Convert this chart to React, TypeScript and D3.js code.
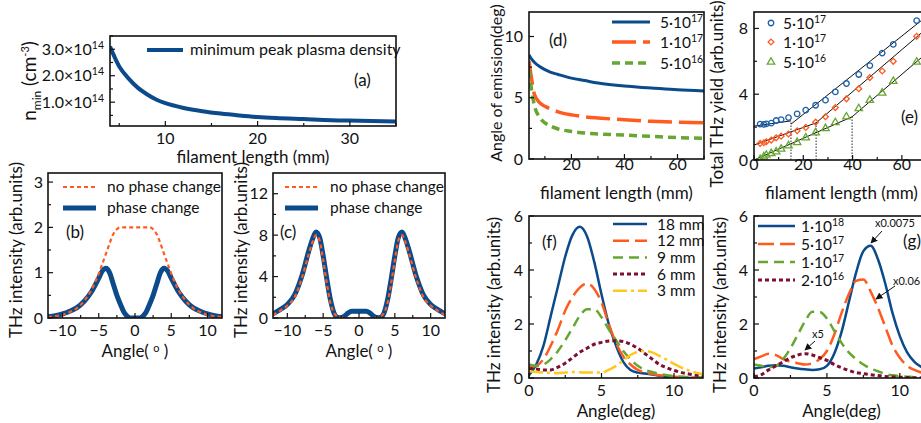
import React from 'react';
import * as d3 from 'd3';

const FONT = "Lato, 'Open Sans', sans-serif";
const BLUE = '#0b4a8b';
const ORANGE = '#ff5a1f';
const GREEN = '#66a631';
const DARKRED = '#7d1030';
const YELLOW = '#ffc81e';

// (a) minimum peak plasma density vs filament length (units of 1e14 cm^-3)
const aLength = [4, 5, 6, 7, 8, 9, 10, 12, 14, 16, 18, 20, 22, 25, 28, 31, 35];
const aDensity = [3.1, 2.35, 1.9, 1.55, 1.3, 1.1, 0.96, 0.78, 0.66, 0.57, 0.5, 0.44, 0.4, 0.36, 0.32, 0.3, 0.27];

// (b) angular THz distribution, short filament
const bAngle = [-12, -11, -10, -9, -8, -7, -6, -5, -4.5, -4, -3.5, -3, -2.5, -2, -1.5, -1, -0.5, 0, 0.5, 1, 1.5, 2, 2.5, 3, 3.5, 4, 4.5, 5, 6, 7, 8, 9, 10, 11, 12];
const bNoPhase = [0.02, 0.04, 0.07, 0.13, 0.22, 0.38, 0.62, 0.98, 1.2, 1.42, 1.65, 1.85, 1.96, 2.0, 2.0, 2.0, 2.0, 2.0, 2.0, 2.0, 2.0, 2.0, 1.96, 1.85, 1.65, 1.42, 1.2, 0.98, 0.62, 0.38, 0.22, 0.13, 0.07, 0.04, 0.02];
const bPhase = [0.03, 0.05, 0.09, 0.15, 0.23, 0.37, 0.58, 0.88, 1.04, 1.1, 1.0, 0.75, 0.5, 0.3, 0.12, 0.03, 0.0, 0.0, 0.0, 0.03, 0.12, 0.3, 0.5, 0.75, 1.0, 1.1, 1.04, 0.88, 0.58, 0.37, 0.23, 0.15, 0.09, 0.05, 0.03];

// (c) angular THz distribution, long filament
const cAngle = [-12, -11, -10, -9, -8, -7, -6.5, -6, -5.5, -5, -4.5, -4, -3.5, -3, -2.5, -2, -1.5, -1, 0, 1, 1.5, 2, 2.5, 3, 3.5, 4, 4.5, 5, 5.5, 6, 6.5, 7, 8, 9, 10, 11, 12];
const cNoPhase = [0.3, 0.7, 1.2, 2.0, 3.8, 6.2, 7.3, 8.0, 7.5, 5.6, 3.4, 1.5, 0.5, 0.15, 0.05, 0.0, 0.0, 0.0, 0.0, 0.0, 0.0, 0.0, 0.05, 0.15, 0.5, 1.5, 3.4, 5.6, 7.5, 8.0, 7.3, 6.2, 3.8, 2.0, 1.2, 0.7, 0.3];
const cPhase = [0.4, 0.8, 1.3, 2.2, 4.0, 6.5, 7.6, 8.3, 7.8, 6.0, 3.8, 1.8, 0.5, 0.05, 0.0, 0.2, 0.5, 0.65, 0.65, 0.65, 0.5, 0.2, 0.0, 0.05, 0.5, 1.8, 3.8, 6.0, 7.8, 8.3, 7.6, 6.5, 4.0, 2.2, 1.3, 0.8, 0.4];

// (d) angle of emission vs filament length
const dLength = [4, 5, 6, 8, 10, 12, 15, 20, 25, 30, 40, 50, 60, 70];
const dHigh = [8.5, 8.15, 7.9, 7.55, 7.3, 7.1, 6.9, 6.6, 6.4, 6.2, 5.95, 5.8, 5.65, 5.55];
const dMid = [8.0, 6.5, 5.3, 4.6, 4.3, 4.1, 3.85, 3.6, 3.45, 3.35, 3.2, 3.08, 3.0, 2.95];
const dLow = [7.3, 5.6, 4.4, 3.4, 2.95, 2.7, 2.45, 2.25, 2.12, 2.05, 1.95, 1.85, 1.75, 1.7];
const densityLabels = [['5·10', '17'], ['1·10', '17'], ['5·10', '16']];

// (e) total THz yield vs filament length
const eLength = [2.5, 4, 5, 7, 9, 11, 14, 17.5, 21, 25, 29, 33, 37.5, 42.5, 47, 52, 56.5, 66];
const eHigh = [2.18, 2.17, 2.2, 2.24, 2.4, 2.46, 2.58, 2.8, 3.03, 3.33, 3.64, 4.14, 4.65, 5.2, 5.74, 6.5, 7.03, 8.48];
const eMid = [1.01, 1.05, 1.11, 1.21, 1.35, 1.45, 1.58, 1.78, 1.98, 2.3, 2.63, 3.19, 3.72, 4.34, 5.01, 5.41, 6.0, 7.52];
const eLow = [0.04, 0.2, 0.3, 0.4, 0.5, 0.67, 0.87, 1.07, 1.35, 1.66, 1.92, 2.28, 2.63, 3.13, 3.64, 4.08, 4.79, 5.96];
const eFitHigh = [[[0, 2.06], [15, 2.38]], [[15, 2.18], [71, 8.85]]];
const eFitMid = [[[0, 0.91], [25.2, 2.26]], [[25.2, 2.26], [71, 8.12]]];
const eFitLow = [[[0, 0.0], [39.8, 2.63]], [[39.8, 2.63], [71, 6.62]]];
const eBreaks = [[15, 2.38], [25.2, 2.26], [39.8, 2.63]];

// (f) angular distribution for several filament lengths
const fAngle = [0, 0.5, 1, 1.5, 2, 2.5, 3, 3.5, 4, 4.5, 5, 5.5, 6, 6.5, 7, 7.5, 8, 8.5, 9, 9.5, 10, 11, 12];
const f18 = [0.1, 0.5, 1.2, 2.3, 3.4, 4.5, 5.3, 5.6, 5.25, 4.3, 3.1, 2.0, 1.2, 0.6, 0.3, 0.2, 0.17, 0.13, 0.08, 0.05, 0.02, 0.0, 0.0];
const f12 = [0.4, 0.45, 0.7, 1.2, 1.8, 2.5, 3.0, 3.35, 3.5, 3.3, 2.8, 2.0, 1.3, 0.8, 0.5, 0.3, 0.2, 0.15, 0.1, 0.07, 0.05, 0.02, 0.0];
const f9 = [0.5, 0.45, 0.5, 0.7, 1.0, 1.4, 1.85, 2.3, 2.55, 2.55, 2.25, 1.8, 1.4, 1.0, 0.7, 0.45, 0.3, 0.22, 0.15, 0.1, 0.07, 0.03, 0.01];
const f6 = [0.35, 0.33, 0.3, 0.3, 0.4, 0.55, 0.75, 0.95, 1.1, 1.25, 1.32, 1.37, 1.38, 1.35, 1.25, 1.1, 0.9, 0.7, 0.5, 0.38, 0.28, 0.15, 0.08];
const f3 = [0.25, 0.22, 0.2, 0.19, 0.18, 0.2, 0.22, 0.21, 0.2, 0.2, 0.2, 0.3, 0.45, 0.65, 0.85, 0.97, 1.0, 0.95, 0.82, 0.68, 0.52, 0.28, 0.14];
const fLabels = ['18 mm', '12 mm', '9 mm', '6 mm', '3 mm'];

// (g) angular distribution for several densities
const gAngle = [0, 0.5, 1, 1.5, 2, 2.5, 3, 3.5, 4, 4.5, 5, 5.5, 6, 6.5, 7, 7.5, 8, 8.5, 9, 9.5, 10, 10.5, 11, 11.5, 12];
const g1e18 = [0.35, 0.4, 0.45, 0.47, 0.45, 0.4, 0.35, 0.32, 0.3, 0.32, 0.45, 0.9, 1.7, 2.8, 3.9, 4.7, 4.9, 4.4, 3.5, 2.4, 1.55, 0.95, 0.6, 0.4, 0.28];
const g5e17 = [0.7, 0.8, 0.9, 0.85, 0.7, 0.6, 0.55, 0.5, 0.55, 0.7, 1.0, 1.6, 2.4, 3.1, 3.6, 3.65, 3.2, 2.6, 1.9, 1.2, 0.75, 0.45, 0.3, 0.2, 0.15];
const g1e17 = [0.5, 0.45, 0.4, 0.45, 0.7, 1.1, 1.6, 2.1, 2.45, 2.45, 2.2, 1.75, 1.3, 0.95, 0.7, 0.5, 0.35, 0.25, 0.15, 0.1, 0.07, 0.05, 0.03, 0.02, 0.01];
const g2e16 = [0.05, 0.12, 0.3, 0.45, 0.6, 0.75, 0.85, 0.9, 0.85, 0.75, 0.65, 0.5, 0.38, 0.28, 0.2, 0.16, 0.12, 0.09, 0.06, 0.04, 0.03, 0.02, 0.01, 0.0, 0.0];
const gLabels = [['1·10', '18'], ['5·10', '17'], ['1·10', '17'], ['2·10', '16']];

type Lin = d3.ScaleLinear<number, number>;

function zip(xs: number[], ys: number[]): [number, number][] {
  return xs.map((x, i) => [x, ys[i]]);
}

function path(xs: Lin, ys: Lin, pts: [number, number][], smooth = true) {
  const line = d3.line<[number, number]>()
    .x(d => xs(d[0]))
    .y(d => ys(d[1]));
  if (smooth) line.curve(d3.curveMonotoneX);
  return line(pts) || '';
}

const TICK = 16;
const TITLE = 17;
const LEG = 15.5;

function Frame({ id, xs, ys, xMajor, xMinor, yMajor, yMinor, xFmt, yFmt, xTickY, yTickX, xTitle, xTitleY, yTitle, yTitleX, yTitleY, yTitleSize, children }: any) {
  const [x0, x1] = xs.range();
  const [y1, y0] = ys.range();
  return (
    <g>
      <defs>
        <clipPath id={id}>
          <rect x={x0} y={y0} width={x1 - x0} height={y1 - y0} />
        </clipPath>
      </defs>
      <g clipPath={`url(#${id})`}>{children}</g>
      <rect x={x0} y={y0} width={x1 - x0} height={y1 - y0} fill="none" stroke="#111" strokeWidth={1.6} />
      {xMajor.map((v: number) => (
        <line key={'xM' + v} x1={xs(v)} x2={xs(v)} y1={y1} y2={y1 - 5} stroke="#111" strokeWidth={1.2} />
      ))}
      {xMinor.map((v: number) => (
        <line key={'xm' + v} x1={xs(v)} x2={xs(v)} y1={y1} y2={y1 - 3} stroke="#111" strokeWidth={1.2} />
      ))}
      {yMajor.map((v: number) => (
        <line key={'yM' + v} x1={x0} x2={x0 + 5} y1={ys(v)} y2={ys(v)} stroke="#111" strokeWidth={1.2} />
      ))}
      {yMinor.map((v: number) => (
        <line key={'ym' + v} x1={x0} x2={x0 + 3} y1={ys(v)} y2={ys(v)} stroke="#111" strokeWidth={1.2} />
      ))}
      {xMajor.map((v: number) => (
        <text key={'xt' + v} x={xs(v)} y={xTickY} textAnchor="middle" fontSize={TICK}>{xFmt(v)}</text>
      ))}
      {yMajor.map((v: number) => (
        <text key={'yt' + v} x={yTickX} y={ys(v) + 5.5} textAnchor="end" fontSize={TICK}>{yFmt(v)}</text>
      ))}
      <text x={(x0 + x1) / 2} y={xTitleY} textAnchor="middle" fontSize={TITLE}>{xTitle}</text>
      <text transform={`translate(${yTitleX},${yTitleY}) rotate(-90)`} textAnchor="middle" fontSize={yTitleSize || TITLE}>{yTitle}</text>
    </g>
  );
}

const minus = (v: number) => (v < 0 ? '\u2212' + Math.abs(v) : String(v));
const plain = (v: number) => String(v);

function Pow({ base, exp }: { base: string; exp: string }) {
  return (
    <>
      {base}
      <tspan dy={-6} fontSize={10.5}>{exp}</tspan>
    </>
  );
}

function LegendLine({ x, y, w, color, width, dash }: any) {
  return <line x1={x} x2={x + w} y1={y} y2={y} stroke={color} strokeWidth={width} strokeDasharray={dash} />;
}

export default function App() {
  // scales
  const xa = d3.scaleLinear().domain([4, 35]).range([110, 396]);
  const ya = d3.scaleLinear().domain([0.1, 3.5]).range([126, 36]);
  const xb = d3.scaleLinear().domain([-12, 12]).range([48, 222]);
  const yb = d3.scaleLinear().domain([0, 3.2]).range([318, 173]);
  const xc = d3.scaleLinear().domain([-12, 12]).range([273, 445]);
  const yc = d3.scaleLinear().domain([0, 14]).range([318, 173]);
  const xd = d3.scaleLinear().domain([4, 70]).range([529, 704]);
  const yd = d3.scaleLinear().domain([0, 12]).range([159, 12]);
  const xe = d3.scaleLinear().domain([0, 71]).range([754, 929]);
  const ye = d3.scaleLinear().domain([0, 9]).range([160, 12]);
  const xf = d3.scaleLinear().domain([0, 12]).range([529, 703]);
  const yf = d3.scaleLinear().domain([0, 6]).range([378, 216]);
  const xg = d3.scaleLinear().domain([0, 12]).range([754, 929]);
  const yg = d3.scaleLinear().domain([0, 6]).range([378, 216]);

  const angleTitle = <>Angle( <tspan dy={-5} fontSize={11}>o</tspan><tspan dy={5}> )</tspan></>;
  const thzTitle = 'THz intensity (arb.units)';

  const symCircle = d3.symbol(d3.symbolCircle, 24)() || '';
  const symSquare = d3.symbol(d3.symbolSquare, 17)() || '';
  const symTri = d3.symbol(d3.symbolTriangle, 24)() || '';

  const fStyles = [
    { c: BLUE, w: 2.5, dash: undefined },
    { c: ORANGE, w: 2.5, dash: '16 6' },
    { c: GREEN, w: 2.5, dash: '10 6' },
    { c: DARKRED, w: 3, dash: '4 3' },
    { c: YELLOW, w: 2.5, dash: '14 4 3 4' },
  ];
  const fSeries = [f18, f12, f9, f6, f3];
  const gSeries = [g1e18, g5e17, g1e17, g2e16];

  return (
    <svg width={921} height={423} style={{ position: 'absolute', left: 0, top: 0, background: '#fff' }} fontFamily={FONT} fill="#111">
      <defs>
        <marker id="arrow" viewBox="0 0 10 10" refX={9} refY={5} markerWidth={7} markerHeight={7} orient="auto">
          <path d="M0,0 L10,5 L0,10 z" fill="#111" />
        </marker>
      </defs>

      {/* (a) */}
      <Frame id="ca" xs={xa} ys={ya} xMajor={[10, 20, 30]} xMinor={[5, 15, 25, 35]} yMajor={[1, 2, 3]} yMinor={[0.5, 1.5, 2.5, 3.5]}
        xFmt={plain} yFmt={(v: number) => <Pow base={v.toFixed(1) + '×10'} exp="14" />}
        xTickY={144} yTickX={104} xTitle="filament length (mm)" xTitleY={163}
        yTitle={<tspan fontSize={19}>n<tspan dy={5} fontSize={12}>min</tspan><tspan dy={-5}> (cm</tspan><tspan dy={-7} fontSize={11}>-3</tspan><tspan dy={7}>)</tspan></tspan>}
        yTitleX={36} yTitleY={81}>
        <path d={path(xa, ya, zip(aLength, aDensity))} fill="none" stroke={BLUE} strokeWidth={4} />
      </Frame>
      <LegendLine x={147} y={50} w={36} color={BLUE} width={4} />
      <text x={190} y={55} fontSize={LEG + 0.5}>minimum peak plasma density</text>
      <text x={354} y={86} fontSize={TITLE}>(a)</text>

      {/* (b) */}
      <Frame id="cb" xs={xb} ys={yb} xMajor={[-10, -5, 0, 5, 10]} xMinor={[-7.5, -2.5, 2.5, 7.5]} yMajor={[0, 1, 2, 3]} yMinor={[0.5, 1.5, 2.5]}
        xFmt={minus} yFmt={plain} xTickY={336} yTickX={43} xTitle={angleTitle} xTitleY={357}
        yTitle={thzTitle} yTitleX={22} yTitleY={250}>
        <path d={path(xb, yb, zip(bAngle, bPhase))} fill="none" stroke={BLUE} strokeWidth={5} />
        <path d={path(xb, yb, zip(bAngle, bNoPhase))} fill="none" stroke={ORANGE} strokeWidth={2.2} strokeDasharray="4 3" />
      </Frame>
      <LegendLine x={63} y={187} w={33} color={ORANGE} width={2.2} dash="4 3" />
      <text x={107} y={192} fontSize={LEG}>no phase change</text>
      <LegendLine x={63} y={208} w={33} color={BLUE} width={5} />
      <text x={107} y={213} fontSize={LEG}>phase change</text>
      <text x={66} y={238} fontSize={TITLE}>(b)</text>

      {/* (c) */}
      <Frame id="cc" xs={xc} ys={yc} xMajor={[-10, -5, 0, 5, 10]} xMinor={[-7.5, -2.5, 2.5, 7.5]} yMajor={[0, 4, 8, 12]} yMinor={[2, 6, 10]}
        xFmt={minus} yFmt={plain} xTickY={336} yTickX={268} xTitle={angleTitle} xTitleY={357}
        yTitle={thzTitle} yTitleX={247} yTitleY={250}>
        <path d={path(xc, yc, zip(cAngle, cPhase))} fill="none" stroke={BLUE} strokeWidth={5} />
        <path d={path(xc, yc, zip(cAngle, cNoPhase))} fill="none" stroke={ORANGE} strokeWidth={2.2} strokeDasharray="4 3" />
      </Frame>
      <LegendLine x={285} y={187} w={33} color={ORANGE} width={2.2} dash="4 3" />
      <text x={330} y={192} fontSize={LEG}>no phase change</text>
      <LegendLine x={285} y={208} w={33} color={BLUE} width={5} />
      <text x={330} y={213} fontSize={LEG}>phase change</text>
      <text x={280} y={238} fontSize={TITLE}>(c)</text>

      {/* (d) */}
      <Frame id="cd" xs={xd} ys={yd} xMajor={[20, 40, 60]} xMinor={[10, 30, 50, 70]} yMajor={[0, 5, 10]} yMinor={[2.5, 7.5]}
        xFmt={plain} yFmt={plain} xTickY={170} yTickX={523} xTitle="filament length (mm)" xTitleY={199}
        yTitle="Angle of emission(deg)" yTitleSize={16} yTitleX={502} yTitleY={83}>
        <path d={path(xd, yd, zip(dLength, dHigh))} fill="none" stroke={BLUE} strokeWidth={3} />
        <path d={path(xd, yd, zip(dLength, dMid))} fill="none" stroke={ORANGE} strokeWidth={3.5} strokeDasharray="24 7" />
        <path d={path(xd, yd, zip(dLength, dLow))} fill="none" stroke={GREEN} strokeWidth={3.5} strokeDasharray="8 5" />
      </Frame>
      <LegendLine x={612} y={22} w={38} color={BLUE} width={3} />
      <LegendLine x={612} y={42} w={38} color={ORANGE} width={3.5} dash="24 7" />
      <LegendLine x={612} y={63} w={38} color={GREEN} width={3.5} dash="8 5" />
      {densityLabels.map((l, i) => (
        <text key={l.join('')} x={660} y={27.5 + i * 20.5} fontSize={LEG}><Pow base={l[0]} exp={l[1]} /></text>
      ))}
      <text x={549} y={46} fontSize={TITLE}>(d)</text>

      {/* (e) */}
      <Frame id="ce" xs={xe} ys={ye} xMajor={[0, 20, 40, 60]} xMinor={[10, 30, 50, 70]} yMajor={[0, 4, 8]} yMinor={[2, 6]}
        xFmt={plain} yFmt={plain} xTickY={170} yTickX={748} xTitle="filament length (mm)" xTitleY={199}
        yTitle="Total THz yield (arb.units)" yTitleX={723} yTitleY={94}>
        {[eFitHigh, eFitMid, eFitLow].map((segs, i) => segs.map((s, j) => (
          <path key={`${i}-${j}`} d={path(xe, ye, s as [number, number][], false)} fill="none" stroke="#111" strokeWidth={1} />
        )))}
        {eBreaks.map((b, i) => (
          <line key={i} x1={xe(b[0])} x2={xe(b[0])} y1={ye(0)} y2={ye(b[1])} stroke="#111" strokeWidth={0.9} strokeDasharray="1.5 1.5" />
        ))}
        {eLength.map((x, i) => (
          <g key={i}>
            <path d={symCircle} transform={`translate(${xe(x)},${ye(eHigh[i])})`} fill="none" stroke="#1d5fa8" strokeWidth={1.3} />
            <path d={symSquare} transform={`translate(${xe(x)},${ye(eMid[i])}) rotate(45)`} fill="none" stroke={ORANGE} strokeWidth={1.3} />
            <path d={symTri} transform={`translate(${xe(x)},${ye(eLow[i])})`} fill="none" stroke={GREEN} strokeWidth={1.3} />
          </g>
        ))}
      </Frame>
      <path d={symCircle} transform="translate(771,23)" fill="none" stroke="#1d5fa8" strokeWidth={1.3} />
      <path d={symSquare} transform="translate(771,42) rotate(45)" fill="none" stroke={ORANGE} strokeWidth={1.3} />
      <path d={symTri} transform="translate(771,62)" fill="none" stroke={GREEN} strokeWidth={1.3} />
      {densityLabels.map((l, i) => (
        <text key={l.join('')} x={783} y={28.5 + i * 19.5} fontSize={LEG}><Pow base={l[0]} exp={l[1]} /></text>
      ))}
      <text x={901} y={123} fontSize={TITLE}>(e)</text>

      {/* (f) */}
      <Frame id="cf" xs={xf} ys={yf} xMajor={[0, 5, 10]} xMinor={[2.5, 7.5]} yMajor={[0, 2, 4, 6]} yMinor={[1, 3, 5]}
        xFmt={plain} yFmt={plain} xTickY={396} yTickX={523} xTitle="Angle(deg)" xTitleY={417}
        yTitle={thzTitle} yTitleX={500} yTitleY={305}>
        {fSeries.map((s, i) => (
          <path key={i} d={path(xf, yf, zip(fAngle, s))} fill="none" stroke={fStyles[i].c} strokeWidth={fStyles[i].w} strokeDasharray={fStyles[i].dash} />
        ))}
      </Frame>
      {fLabels.map((l, i) => (
        <g key={l}>
          <LegendLine x={613} y={224 + i * 16.7} w={34} color={fStyles[i].c} width={fStyles[i].w} dash={fStyles[i].dash} />
          <text x={657} y={229.5 + i * 16.7} fontSize={LEG}>{l}</text>
        </g>
      ))}
      <text x={542} y={248} fontSize={TITLE}>(f)</text>

      {/* (g) */}
      <Frame id="cg" xs={xg} ys={yg} xMajor={[0, 5, 10]} xMinor={[2.5, 7.5]} yMajor={[0, 2, 4, 6]} yMinor={[1, 3, 5]}
        xFmt={plain} yFmt={plain} xTickY={396} yTickX={748} xTitle="Angle(deg)" xTitleY={417}
        yTitle={thzTitle} yTitleX={726} yTitleY={305}>
        {gSeries.map((s, i) => (
          <path key={i} d={path(xg, yg, zip(gAngle, s))} fill="none" stroke={fStyles[i].c} strokeWidth={fStyles[i].w} strokeDasharray={fStyles[i].dash} />
        ))}
      </Frame>
      {gLabels.map((l, i) => (
        <g key={l.join('')}>
          <LegendLine x={758} y={226 + i * 18} w={37} color={fStyles[i].c} width={fStyles[i].w} dash={fStyles[i].dash} />
          <text x={801} y={231.5 + i * 18} fontSize={LEG}><Pow base={l[0]} exp={l[1]} /></text>
        </g>
      ))}
      <text x={903} y={247} fontSize={TITLE}>(g)</text>
      <text x={875} y={227} fontSize={11}>x0.0075</text>
      <line x1={882} y1={231} x2={871} y2={243} stroke="#111" strokeWidth={1} markerEnd="url(#arrow)" />
      <text x={893} y={285} fontSize={11}>x0.06</text>
      <line x1={895} y1={286} x2={876} y2={299} stroke="#111" strokeWidth={1} markerEnd="url(#arrow)" />
      <text x={812} y={338} fontSize={11}>x5</text>
      <line x1={815} y1={341} x2={805} y2={350} stroke="#111" strokeWidth={1} markerEnd="url(#arrow)" />
    </svg>
  );
}
